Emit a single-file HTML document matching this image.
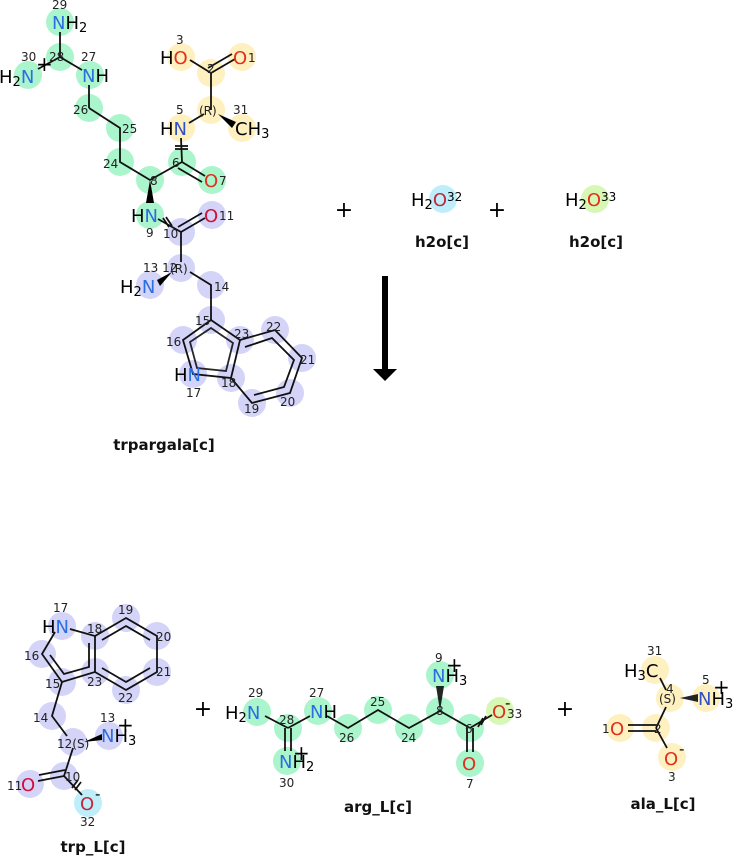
<!DOCTYPE html>
<html><head><meta charset="utf-8"><style>
html,body{margin:0;padding:0;background:#fff}
svg{display:block}
text{font-family:"DejaVu Sans","Liberation Sans",sans-serif}
.a{font-size:18px}
.n{font-size:12px;fill:#222}
.lb{font-size:15px;font-weight:bold;fill:#111}
.N{fill:#2a6fe0}.O{fill:#e0301e}.Or{fill:#d0103a}
.g{fill:#aaf5cc}.y{fill:#fff0bf}.p{fill:#d4d4f8}.c{fill:#bdeefa}.l{fill:#d6f8b4}
circle{r:14px}
line,polyline,path.b{stroke:#111;stroke-width:1.8;fill:none}
</style></head><body>
<svg width="738" height="856" viewBox="0 0 738 856" xmlns="http://www.w3.org/2000/svg">
<g>
<circle class="g" cx="60" cy="22" r="14"/><circle class="g" cx="60" cy="57" r="14"/><circle class="g" cx="28" cy="75" r="14"/><circle class="g" cx="90" cy="75" r="14"/>
<circle class="g" cx="89" cy="108" r="14"/><circle class="g" cx="120" cy="128" r="14"/><circle class="g" cx="120" cy="162" r="14"/><circle class="g" cx="150" cy="180" r="14"/>
<circle class="g" cx="182" cy="162" r="14"/><circle class="g" cx="212" cy="180" r="14"/><circle class="g" cx="150" cy="215" r="14"/>
<circle class="y" cx="181" cy="128" r="14"/><circle class="y" cx="211" cy="110" r="14"/><circle class="y" cx="242" cy="128" r="14"/><circle class="y" cx="211" cy="73" r="14"/><circle class="y" cx="181" cy="57" r="14"/><circle class="y" cx="242" cy="57" r="14"/>
<circle class="p" cx="181" cy="232" r="14"/><circle class="p" cx="212" cy="215" r="14"/><circle class="p" cx="181" cy="268" r="14"/><circle class="p" cx="150" cy="285" r="14"/><circle class="p" cx="211" cy="285" r="14"/>
<circle class="p" cx="211" cy="320" r="14"/><circle class="p" cx="183" cy="340" r="14"/><circle class="p" cx="193" cy="374" r="14"/><circle class="p" cx="231" cy="378" r="14"/><circle class="p" cx="240" cy="340" r="14"/>
<circle class="p" cx="275" cy="330" r="14"/><circle class="p" cx="302" cy="358" r="14"/><circle class="p" cx="290" cy="393" r="14"/><circle class="p" cx="252" cy="403" r="14"/>
<line x1="60" y1="32" x2="60" y2="57"/><line x1="60" y1="57" x2="38" y2="69"/><line x1="60" y1="57" x2="82" y2="70"/>
<line x1="89" y1="85" x2="89" y2="108"/><polyline points="89,108 120,128 120,162 150,180 182,162"/>
<line x1="182" y1="162" x2="205" y2="176"/><line x1="178" y1="168" x2="202" y2="182"/>
<line x1="182" y1="162" x2="181" y2="138"/><line x1="175" y1="146" x2="188" y2="146"/><line x1="175" y1="149" x2="188" y2="149"/>
<line x1="189" y1="123" x2="204" y2="114"/><line x1="211" y1="110" x2="211" y2="73"/>
<path d="M218,114 L236,122 L232,128 Z" fill="#000"/>
<line x1="211" y1="73" x2="190" y2="60"/><line x1="211" y1="73" x2="235" y2="59"/><line x1="208" y1="68" x2="232" y2="54"/>
<path d="M150,180 L146,203 L154,203 Z" fill="#000"/>
<line x1="158" y1="219" x2="181" y2="232"/><line x1="163" y1="218" x2="169" y2="227"/><line x1="166" y1="217" x2="172" y2="226"/>
<line x1="181" y1="232" x2="205" y2="218"/><line x1="178" y1="227" x2="202" y2="213"/>
<line x1="181" y1="232" x2="181" y2="262"/>
<path d="M172,272 L160,286 L157,280 Z" fill="#000"/>
<polyline points="190,272 211,285 211,320"/>
<path class="b" d="M211,320 L240,340 L231,378 L193,374 L183,340 Z"/>
<path class="b" d="M211,328 L233,343 L226,371 L197,368 L190,342 Z" opacity="0.9"/>
<path class="b" d="M240,340 L275,330 L302,358 L290,393 L252,403 L231,378"/>
<path class="b" d="M245,347 L272,338 L294,360 L284,387 L254,395"/>
<text class="a" x="52" y="29"><tspan class="N">N</tspan>H<tspan font-size="13" dy="3">2</tspan></text>
<text class="n" x="52" y="9">29</text>
<text class="a" x="-1" y="83">H<tspan font-size="13" dy="3">2</tspan><tspan class="N" dy="-3">N</tspan></text>
<text x="36" y="71" font-size="20">+</text>
<text class="n" x="21" y="61">30</text><text class="n" x="49" y="61">28</text>
<text class="a" x="82" y="82"><tspan class="N">N</tspan>H</text><text class="n" x="81" y="61">27</text>
<text class="n" x="73" y="114">26</text><text class="n" x="122" y="133">25</text><text class="n" x="103" y="168">24</text><text class="n" x="150" y="185">8</text>
<text class="n" x="172" y="167">6</text><text class="a O" x="204" y="187">O</text><text class="n" x="219" y="185">7</text>
<text class="a" x="160" y="135">H<tspan fill="#3050c8">N</tspan></text><text class="n" x="176" y="114">5</text>
<text class="n" x="199" y="115" fill="#555">(R)</text>
<text class="n" x="233" y="114">31</text><text class="a" x="235" y="135">CH<tspan font-size="13" dy="3">3</tspan></text>
<text class="n" x="207" y="73">2</text>
<text class="a" x="160" y="64">H<tspan class="O">O</tspan></text><text class="n" x="176" y="44">3</text>
<text class="a O" x="233" y="64">O</text><text class="n" x="248" y="62">1</text>
<text class="a" x="131" y="222">H<tspan class="N">N</tspan></text><text class="n" x="146" y="237">9</text>
<text class="n" x="163" y="238">10</text><text class="a Or" x="204" y="222">O</text><text class="n" x="219" y="220">11</text>
<text class="n" x="170" y="273" fill="#555">(R)</text><text class="n" x="143" y="272">13 12</text>
<text class="a" x="120" y="293">H<tspan font-size="13" dy="3">2</tspan><tspan class="N" dy="-3">N</tspan></text>
<text class="n" x="214" y="291">14</text><text class="n" x="195" y="325">15</text><text class="n" x="166" y="346">16</text>
<text class="a" x="174" y="381">H<tspan class="N">N</tspan></text><text class="n" x="186" y="397">17</text>
<text class="n" x="221" y="387">18</text><text class="n" x="234" y="338">23</text><text class="n" x="266" y="331">22</text>
<text class="n" x="300" y="364">21</text><text class="n" x="280" y="406">20</text><text class="n" x="244" y="413">19</text>
<text class="lb" x="164" y="450" text-anchor="middle">trpargala[c]</text>
</g>
<text x="344" y="217" font-size="22" text-anchor="middle" fill="#000">+</text>
<circle class="c" cx="443" cy="199" r="14"/>
<text class="a" x="411" y="206">H<tspan font-size="13" dy="3">2</tspan><tspan dy="-3" fill="#c0283c">O</tspan><tspan font-size="12" dy="-5">32</tspan></text>
<text class="lb" x="442" y="247" text-anchor="middle">h2o[c]</text>
<text x="497" y="217" font-size="22" text-anchor="middle" fill="#000">+</text>
<circle class="l" cx="595" cy="199" r="14"/>
<text class="a" x="565" y="206">H<tspan font-size="13" dy="3">2</tspan><tspan dy="-3" class="O">O</tspan><tspan font-size="12" dy="-5">33</tspan></text>
<text class="lb" x="596" y="247" text-anchor="middle">h2o[c]</text>
<rect x="382" y="276" width="6" height="94" fill="#000"/>
<path d="M373,369 L397,369 L385,381 Z" fill="#000"/>
<g>
<circle class="p" cx="62" cy="626" r="14"/><circle class="p" cx="95" cy="636" r="14"/><circle class="p" cx="126" cy="618" r="14"/><circle class="p" cx="157" cy="636" r="14"/>
<circle class="p" cx="157" cy="672" r="14"/><circle class="p" cx="126" cy="690" r="14"/><circle class="p" cx="95" cy="672" r="14"/><circle class="p" cx="42" cy="654" r="14"/>
<circle class="p" cx="62" cy="682" r="14"/><circle class="p" cx="52" cy="716" r="14"/><circle class="p" cx="73" cy="742" r="14"/><circle class="p" cx="109" cy="736" r="14"/>
<circle class="p" cx="64" cy="776" r="14"/><circle class="p" cx="30" cy="784" r="14"/><circle class="c" cx="88" cy="803" r="14"/>
<path class="b" d="M70,629 L95,636 L95,672 L62,682 L42,654 L55,632"/>
<path class="b" d="M89,643 L89,667 L64,674 L50,655"/>
<path class="b" d="M95,636 L126,618 L157,636 L157,672 L126,690 L95,672"/>
<path class="b" d="M102,640 L126,626 L150,640 M150,668 L126,682 L102,668"/>
<polyline points="62,682 52,716 67,736"/>
<path d="M84,742 L102,734 L102,740 Z" fill="#000"/>
<line x1="73" y1="748" x2="64" y2="776"/>
<line x1="64" y1="776" x2="38" y2="781"/><line x1="65" y1="770" x2="39" y2="775"/>
<line x1="64" y1="776" x2="82" y2="795"/><line x1="72" y1="788" x2="78" y2="780"/><line x1="75" y1="790" x2="81" y2="782"/>
<text class="a" x="42" y="633">H<tspan class="N">N</tspan></text><text class="n" x="53" y="612">17</text>
<text class="n" x="87" y="633">18</text><text class="n" x="118" y="614">19</text><text class="n" x="156" y="641">20</text><text class="n" x="156" y="676">21</text>
<text class="n" x="118" y="702">22</text><text class="n" x="87" y="686">23</text><text class="n" x="24" y="660">16</text><text class="n" x="45" y="688">15</text>
<text class="n" x="33" y="722">14</text><text class="n" x="57" y="748" fill="#555">12(S)</text>
<text class="n" x="100" y="722">13</text><text class="a" x="101" y="742"><tspan class="N">N</tspan>H<tspan font-size="13" dy="3">3</tspan></text>
<text x="117" y="732" font-size="20">+</text>
<text class="n" x="65" y="781">10</text><text class="n" x="7" y="790">11</text><text class="a Or" x="21" y="791">O</text>
<text class="a" x="80" y="810" fill="#c0283c">O</text><text x="95" y="799" font-size="15">-</text><text class="n" x="80" y="826">32</text>
<text class="lb" x="93" y="852" text-anchor="middle">trp_L[c]</text>
</g>
<text x="203" y="716" font-size="22" text-anchor="middle">+</text>
<g>
<circle class="g" cx="257" cy="712" r="14"/><circle class="g" cx="288" cy="728" r="14"/><circle class="g" cx="287" cy="761" r="14"/><circle class="g" cx="318" cy="711" r="14"/>
<circle class="g" cx="348" cy="728" r="14"/><circle class="g" cx="378" cy="710" r="14"/><circle class="g" cx="409" cy="728" r="14"/><circle class="g" cx="440" cy="711" r="14"/>
<circle class="g" cx="440" cy="675" r="14"/><circle class="g" cx="470" cy="728" r="14"/><circle class="g" cx="470" cy="763" r="14"/><circle class="l" cx="500" cy="711" r="14"/>
<line x1="265" y1="716" x2="288" y2="728"/><line x1="288" y1="728" x2="310" y2="716"/>
<line x1="285" y1="728" x2="285" y2="751"/><line x1="291" y1="728" x2="291" y2="751"/>
<polyline points="327,716 348,728 378,710 409,728 440,711 470,728"/>
<path d="M440,711 L436,686 L444,686 Z" fill="#000" opacity="0.85"/>
<line x1="467" y1="728" x2="467" y2="752"/><line x1="473" y1="728" x2="473" y2="752"/>
<line x1="470" y1="728" x2="492" y2="715"/><line x1="478" y1="727" x2="483" y2="718"/><line x1="481" y1="725" x2="486" y2="716"/>
<text class="a" x="225" y="719">H<tspan font-size="13" dy="3">2</tspan><tspan class="N" dy="-3">N</tspan></text><text class="n" x="248" y="697">29</text>
<text class="n" x="279" y="724">28</text>
<text class="a" x="279" y="768"><tspan class="N">N</tspan>H<tspan font-size="13" dy="3">2</tspan></text><text x="293" y="760" font-size="20">+</text><text class="n" x="279" y="787">30</text>
<text class="a" x="310" y="718"><tspan class="N">N</tspan>H</text><text class="n" x="309" y="697">27</text>
<text class="n" x="339" y="742">26</text><text class="n" x="370" y="706">25</text><text class="n" x="401" y="742">24</text><text class="n" x="436" y="715">8</text>
<text class="a" x="432" y="682"><tspan class="N">N</tspan>H<tspan font-size="13" dy="3">3</tspan></text><text x="446" y="672" font-size="20">+</text><text class="n" x="435" y="662">9</text>
<text class="n" x="465" y="733">6</text><text class="a O" x="462" y="770">O</text><text class="n" x="466" y="788">7</text>
<text class="a O" x="492" y="718">O</text><text x="505" y="708" font-size="15">-</text><text class="n" x="507" y="718">33</text>
<text class="lb" x="378" y="812" text-anchor="middle">arg_L[c]</text>
</g>
<text x="565" y="716" font-size="22" text-anchor="middle">+</text>
<g>
<circle class="y" cx="655" cy="670" r="14"/><circle class="y" cx="670" cy="698" r="14"/><circle class="y" cx="706" cy="698" r="14"/>
<circle class="y" cx="656" cy="728" r="14"/><circle class="y" cx="620" cy="728" r="14"/><circle class="y" cx="672" cy="757" r="14"/>
<line x1="660" y1="678" x2="666" y2="690"/>
<path d="M680,698 L698,694 L698,702 Z" fill="#000" opacity="0.85"/>
<line x1="666" y1="707" x2="656" y2="728"/>
<line x1="628" y1="725" x2="656" y2="725"/><line x1="628" y1="731" x2="656" y2="731"/>
<line x1="656" y1="728" x2="667" y2="748"/>
<text class="a" x="624" y="677">H<tspan font-size="13" dy="3">3</tspan><tspan dy="-3">C</tspan></text><text class="n" x="647" y="655">31</text>
<text class="n" x="659" y="703" fill="#555">(S)</text><text class="n" x="666" y="693">4</text>
<text class="a" x="698" y="705"><tspan fill="#3050c8">N</tspan>H<tspan font-size="13" dy="3">3</tspan></text><text x="713" y="694" font-size="20">+</text><text class="n" x="702" y="684">5</text>
<text class="n" x="654" y="733">2</text><text class="a O" x="610" y="735">O</text><text class="n" x="602" y="733">1</text>
<text class="a O" x="664" y="765">O</text><text x="679" y="754" font-size="15">-</text><text class="n" x="668" y="781">3</text>
<text class="lb" x="663" y="809" text-anchor="middle">ala_L[c]</text>
</g>
</svg>
</body></html>
